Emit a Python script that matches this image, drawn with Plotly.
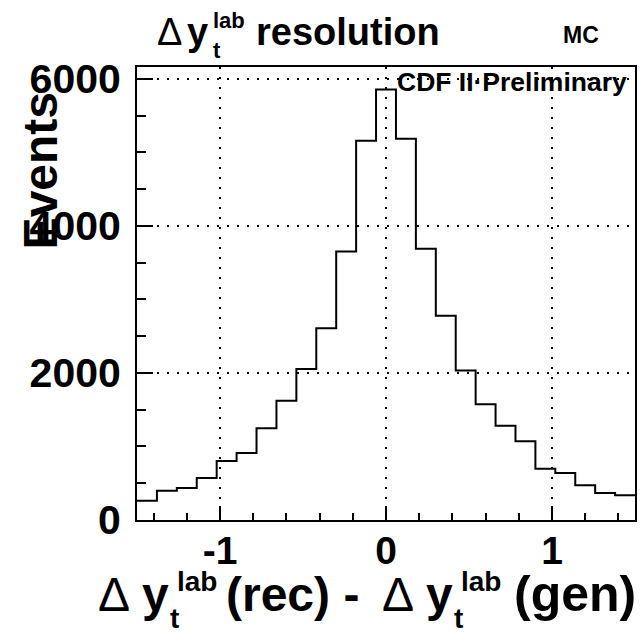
import plotly.graph_objects as go

# ---- data ----
bin_edges = [-1.50, -1.38, -1.26, -1.14, -1.02, -0.90, -0.78, -0.66, -0.54, -0.42,
             -0.30, -0.18, -0.06, 0.06, 0.18, 0.30, 0.42, 0.54, 0.66, 0.78,
             0.90, 1.02, 1.14, 1.26, 1.38, 1.50]
counts = [262, 398, 434, 570, 801, 910, 1249, 1620, 2054, 2606,
          3652, 5158, 5855, 5186, 3688, 2778, 2032, 1575, 1281, 1072,
          697, 638, 471, 367, 335]
x_ticks = [-1, 0, 1]
x_tick_labels = ["-1", "0", "1"]
y_ticks = [0, 2000, 4000, 6000]
y_tick_labels = ["0", "2000", "4000", "6000"]

W, H = 642, 634
L, R, T, B = 137, 637, 67, 520
FONT = "Liberation Sans, Arial, Helvetica, sans-serif"

step_y = counts + [counts[-1]]

fig = go.Figure()
fig.add_trace(go.Scatter(x=bin_edges, y=step_y, mode="lines",
                         line=dict(shape="hv", color="black", width=2),
                         hoverinfo="skip", showlegend=False))

def px(X):
    return (X - L) / (R - L)

def py(Y):
    return (B - Y) / (B - T)

ann = []

def txt(s, xleft, base, fs, bold=True, xanchor="left"):
    ymid = base - 0.347 * fs
    ann.append(dict(text=s, x=px(xleft), y=py(ymid), xref="paper", yref="paper",
                    xanchor=xanchor, yanchor="middle", showarrow=False,
                    font=dict(family=FONT, size=fs, color="black",
                              weight="bold" if bold else "normal")))

# title: Δ y_t^lab resolution
txt("Δ", 155, 45, 38, bold=False)
txt("y", 185, 45, 38)
txt("lab", 211, 28, 22)
txt("t", 211, 58, 22)
txt("resolution", 254, 45, 38)
txt("MC", 563, 43, 23)

# CDF label
txt("CDF II·Preliminary", 631, 91, 26.5, xanchor="right")

# x axis title
txt("Δ", 96, 611, 48, bold=False)
txt("y", 140, 611, 48)
txt("lab", 175, 591, 28)
txt("t", 168, 628, 28)
txt("(rec) -", 224, 611, 48)
txt("Δ", 381, 611, 48, bold=False)
txt("y", 425, 611, 48)
txt("lab", 460, 591, 28)
txt("t", 453, 628, 28)
txt("(gen)", 514, 611, 50)

# y axis title
ann.append(dict(text="Events", x=px(41), y=py(171), xref="paper", yref="paper",
                xanchor="center", yanchor="middle", showarrow=False, textangle=-90,
                font=dict(family=FONT, size=48, color="black", weight="bold")))

fig.update_layout(
    width=W, height=H,
    margin=dict(l=L, r=W - R, t=T, b=H - B, pad=0),
    paper_bgcolor="white", plot_bgcolor="white",
    annotations=ann,
    xaxis=dict(range=[-1.5, 1.5], tickvals=x_ticks, ticktext=x_tick_labels,
               ticks="inside", ticklen=14, tickwidth=2, tickcolor="black",
               minor=dict(dtick=0.2, tick0=0, ticks="inside", ticklen=7, tickwidth=2,
                          tickcolor="black", showgrid=False),
               showline=True, linecolor="black", linewidth=2, mirror=True,
               showgrid=True, gridcolor="black", gridwidth=2, griddash="2px,8px",
               zeroline=False,
               tickfont=dict(family=FONT, size=39, color="black", weight="bold"),
               ticklabelstandoff=-5),
    yaxis=dict(range=[0, 6160], tickvals=y_ticks, ticktext=y_tick_labels,
               ticks="inside", ticklen=16, tickwidth=2, tickcolor="black",
               minor=dict(dtick=500, tick0=0, ticks="inside", ticklen=9, tickwidth=2,
                          tickcolor="black", showgrid=False),
               showline=True, linecolor="black", linewidth=2, mirror=True,
               showgrid=True, gridcolor="black", gridwidth=2, griddash="2px,8px",
               zeroline=False,
               tickfont=dict(family=FONT, size=41, color="black", weight="bold"),
               ticklabelstandoff=6),
)

fig.write_html("out.html")
